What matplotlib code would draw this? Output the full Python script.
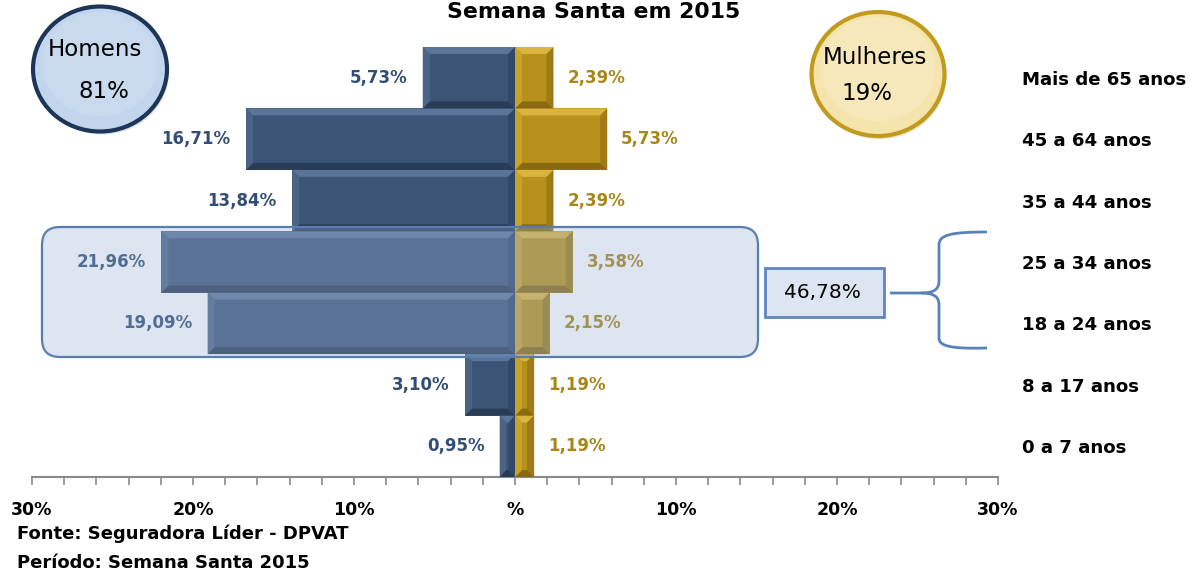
import matplotlib
matplotlib.use("Agg")
import matplotlib.pyplot as plt
import numpy as np
from matplotlib.patches import Polygon, Ellipse, FancyBboxPatch, Rectangle, PathPatch
from matplotlib.path import Path

# ---------------- data ----------------
categories = ["0 a 7 anos", "8 a 17 anos", "18 a 24 anos", "25 a 34 anos",
              "35 a 44 anos", "45 a 64 anos", "Mais de 65 anos"]
homens = [0.95, 3.10, 19.09, 21.96, 13.84, 16.71, 5.73]
mulheres = [1.19, 1.19, 2.15, 3.58, 2.39, 5.73, 2.39]
xtick_values = [-30, -20, -10, 0, 10, 20, 30]
xtick_labels = ["30%", "20%", "10%", "%", "10%", "20%", "30%"]
title = "Semana Santa em 2015"
label_homens = "Homens"
label_mulheres = "Mulheres"
total_homens = "81%"
total_mulheres = "19%"
destaque = "46,78%"
fonte = "Fonte: Seguradora Líder - DPVAT"
periodo = "Período: Semana Santa 2015"

# ---------------- style ----------------
W, H = 1200, 579
fig = plt.figure(figsize=(W / 100, H / 100), dpi=100)
fig.patch.set_facecolor("white")

male_base, male_light, male_lside, male_dark, male_dside = "#3c5577", "#5b7598", "#4a6486", "#293c56", "#324868"
fem_base, fem_light, fem_lside, fem_dark, fem_dside = "#b8901c", "#dab43e", "#c9a22c", "#8a6a10", "#9d7b16"
male_txt = "#324e76"
fem_txt = "#a8861a"

ax = fig.add_axes([32 / W, 102 / H, 966 / W, 430 / H])
ax.set_xlim(-30, 30)
ax.set_ylim(-0.5, len(categories) - 0.5)

y = np.arange(len(categories))
hm = np.array(homens)
mu = np.array(mulheres)
ax.barh(y, -hm, height=1.0, color=male_base, edgecolor="none", zorder=2)
ax.barh(y, mu, height=1.0, color=fem_base, edgecolor="none", zorder=2)

# bevel decoration derived from bar extents
px_x = 60 / 966.0   # data units per pixel in x
px_y = 7 / 430.0    # data units per pixel in y


def bevel(x0, x1, y0, y1, light, lside, dark, dside):
    w = x1 - x0
    h = y1 - y0
    bx = min(7 * px_x, w * 0.42)
    by = min(7 * px_y, h * 0.42)
    polys = [
        ([(x0, y1), (x1, y1), (x1 - bx, y1 - by), (x0 + bx, y1 - by)], light),
        ([(x0, y0), (x1, y0), (x1 - bx, y0 + by), (x0 + bx, y0 + by)], dark),
        ([(x0, y0), (x0, y1), (x0 + bx, y1 - by), (x0 + bx, y0 + by)], lside),
        ([(x1, y0), (x1, y1), (x1 - bx, y1 - by), (x1 - bx, y0 + by)], dside),
    ]
    for pts, c in polys:
        ax.add_patch(Polygon(pts, closed=True, facecolor=c, edgecolor="none", zorder=3))


for yi, v in zip(y, hm):
    bevel(-v, 0, yi - 0.5, yi + 0.5, male_light, male_lside, male_dark, male_dside)
for yi, v in zip(y, mu):
    bevel(0, v, yi - 0.5, yi + 0.5, fem_light, fem_lside, fem_dark, fem_dside)


def fmt(v):
    return f"{v:.2f}".replace(".", ",") + "%"


for yi, v in zip(y, hm):
    ax.annotate(fmt(v), xy=(-v, yi), xytext=(-11, 0), textcoords="offset points",
                ha="right", va="center", fontsize=12, fontweight="bold",
                color=male_txt, family="DejaVu Sans", zorder=4)
for yi, v in zip(y, mu):
    ax.annotate(fmt(v), xy=(v, yi), xytext=(10, 0), textcoords="offset points",
                ha="left", va="center", fontsize=12, fontweight="bold",
                color=fem_txt, family="DejaVu Sans", zorder=4)

# axes styling
for s in ["left", "right", "top"]:
    ax.spines[s].set_visible(False)
ax.spines["bottom"].set_color("#8a8a8a")
ax.spines["bottom"].set_linewidth(1.5)
ax.set_xticks(xtick_values)
ax.set_xticklabels(xtick_labels)
ax.set_xticks(np.arange(-30, 31, 2), minor=True)
ax.tick_params(axis="x", which="both", direction="out", length=6, width=1.2,
               color="#8a8a8a")
ax.tick_params(axis="x", which="major", pad=11, labelsize=12.5)
for t in ax.get_xticklabels():
    t.set_fontweight("bold")

ax.yaxis.tick_right()
ax.set_yticks(y)
ax.set_yticklabels(categories)
ax.tick_params(axis="y", length=0, pad=17, labelsize=13.1)
for t in ax.get_yticklabels():
    t.set_fontweight("bold")
ax.set_facecolor("none")

# ---------------- overlay (pixel coordinates) ----------------
ov = fig.add_axes([0, 0, 1, 1], zorder=5)
ov.set_xlim(0, W)
ov.set_ylim(H, 0)
ov.axis("off")

# highlight box over 18-34 rows
ov.add_patch(FancyBboxPatch((42, 227), 716, 130,
                            boxstyle="round,pad=0,rounding_size=18",
                            facecolor="#98b0d6", alpha=0.32, edgecolor="none"))
ov.add_patch(FancyBboxPatch((42, 227), 716, 130,
                            boxstyle="round,pad=0,rounding_size=18",
                            facecolor="none", edgecolor="#5a7db0", linewidth=1.6))

# value box
ov.add_patch(Rectangle((765, 268), 119, 49, facecolor="#dce6f2",
                       edgecolor="#5f86bf", linewidth=2))
ov.text(822, 293, destaque, ha="center", va="center", fontsize=14.5,
        color="black")

# brace
verts = [(890, 293), (921, 293),
         (933, 293), (939, 290), (939, 281),
         (939, 245),
         (939, 235), (950, 232), (987, 232)]
codes = [Path.MOVETO, Path.LINETO,
         Path.CURVE4, Path.CURVE4, Path.CURVE4,
         Path.LINETO,
         Path.CURVE4, Path.CURVE4, Path.CURVE4]
ov.add_patch(PathPatch(Path(verts, codes), facecolor="none", edgecolor="#5b82b8", linewidth=2))
verts2 = [(921, 293),
          (933, 293), (939, 296), (939, 305),
          (939, 338),
          (939, 346), (950, 349), (987, 348)]
codes2 = [Path.MOVETO,
          Path.CURVE4, Path.CURVE4, Path.CURVE4,
          Path.LINETO,
          Path.CURVE4, Path.CURVE4, Path.CURVE4]
ov.add_patch(PathPatch(Path(verts2, codes2), facecolor="none", edgecolor="#5b82b8", linewidth=2))

# circles
ov.add_patch(Ellipse((102, 72), 134, 125, facecolor="#8fa3bd", edgecolor="none", alpha=0.35))
ov.add_patch(Ellipse((100, 69), 134, 125, facecolor="#c2d5ed", edgecolor="#1d3557", linewidth=3))
ov.add_patch(Ellipse((100, 64), 116, 104, facecolor="#cfdef1", edgecolor="none", alpha=0.6))
ov.text(95, 50, label_homens, ha="center", va="center", fontsize=16.5, color="black")
ov.text(104, 91, total_homens, ha="center", va="center", fontsize=16.5, color="black")

ov.add_patch(Ellipse((880, 77), 133, 124, facecolor="#c7b27a", edgecolor="none", alpha=0.35))
ov.add_patch(Ellipse((878, 74), 133, 124, facecolor="#f6e4ad", edgecolor="#c29b1e", linewidth=3))
ov.add_patch(Ellipse((878, 69), 114, 104, facecolor="#f9ecc6", edgecolor="none", alpha=0.6))
ov.text(875, 58, label_mulheres, ha="center", va="center", fontsize=16.5, color="black")
ov.text(867, 94, total_mulheres, ha="center", va="center", fontsize=16.5, color="black")

# title and source notes
fig.text(594 / W, 1 - 18 / H, title, ha="center", va="baseline", fontsize=15.8,
         fontweight="bold", color="black")
fig.text(17 / W, 1 - 534 / H, fonte, ha="left", va="center", fontsize=13,
         fontweight="bold", color="black")
fig.text(17 / W, 1 - 563 / H, periodo, ha="left", va="center", fontsize=13,
         fontweight="bold", color="black")

fig.savefig("out.png", dpi=100, facecolor="white")
